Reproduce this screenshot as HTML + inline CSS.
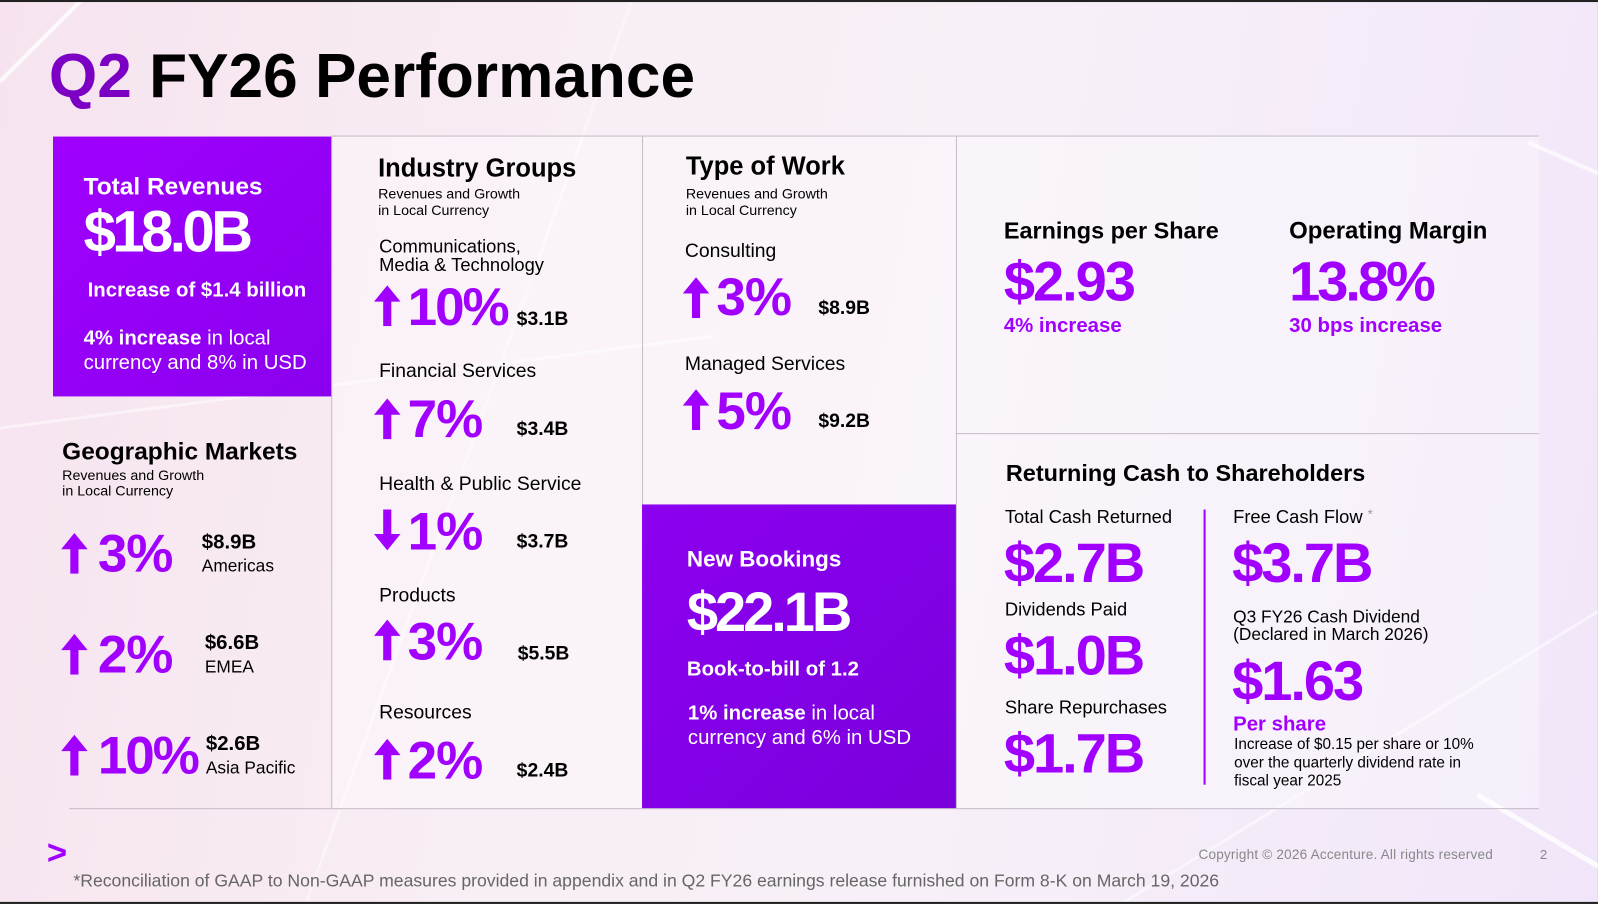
<!DOCTYPE html>
<html><head><meta charset="utf-8"><style>
html,body{margin:0;padding:0;width:1598px;height:904px;overflow:hidden;background:#222;}
#w{position:absolute;left:0;top:0;width:1568px;height:887px;transform:scale(1.0191);transform-origin:0 0;overflow:hidden;
background:linear-gradient(100deg,#f6e3ef 0%,#f8eef5 35%,#f7f0f8 60%,#f1e6f9 100%);font-family:"Liberation Sans",sans-serif;}
#w div,#w span.a{position:absolute;line-height:1;white-space:nowrap;}
.p{color:#a100ff;font-weight:bold;}
.b{font-weight:bold;}
.wt{color:#fff;}
.big{font-size:52px;letter-spacing:-1px;color:#a100ff;font-weight:bold;}
.xl{font-size:55px;letter-spacing:-2px;color:#a100ff;font-weight:bold;}
.hl{background:#c4bcc6;}
svg.ar{position:absolute;}
</style></head><body><div id="w">
<svg style="position:absolute;left:0;top:0" width="1568" height="887">
<line x1="0" y1="80" x2="80" y2="0" stroke="#fff" stroke-width="4" opacity="0.8"/>
<line x1="0" y1="420" x2="700" y2="330" stroke="#fff" stroke-width="3" opacity="0.5"/>
<line x1="620" y1="0" x2="300" y2="887" stroke="#fff" stroke-width="3" opacity="0.4"/>
<line x1="1100" y1="887" x2="1568" y2="600" stroke="#fff" stroke-width="3" opacity="0.5"/>
<line x1="1450" y1="780" x2="1568" y2="850" stroke="#fff" stroke-width="5" opacity="0.8"/>
<line x1="1500" y1="140" x2="1568" y2="170" stroke="#fff" stroke-width="4" opacity="0.7"/>
<rect x="0" y="0" width="1568" height="2" fill="#222"/>
<rect x="0" y="885" width="1568" height="2" fill="#222"/>
</svg>
<div style="left:325px;top:134px;width:613px;height:659px;background:rgba(255,255,255,0.35)"></div>
<div style="left:938px;top:134px;width:572px;height:659px;background:rgba(255,255,255,0.35)"></div>
<div class="hl" style="left:325px;top:133px;width:1185px;height:1px"></div>
<div class="hl" style="left:325px;top:134px;width:1px;height:659px"></div>
<div class="hl" style="left:630px;top:134px;width:1px;height:361px"></div>
<div class="hl" style="left:938px;top:134px;width:1px;height:659px"></div>
<div class="hl" style="left:938px;top:425px;width:572px;height:1px"></div>
<div class="hl" style="left:68px;top:793px;width:1442px;height:1px"></div>
<div style="left:1181px;top:500px;width:2px;height:270px;background:#a100ff"></div>
<div style="left:52px;top:134px;width:273px;height:255px;background:linear-gradient(135deg,#a000ff,#8a00ee)"></div>
<div style="left:630px;top:495px;width:308px;height:298px;background:linear-gradient(135deg,#8c00f0,#7a00dc)"></div>

<div style="left:48px;top:44px;font-size:61px;font-weight:bold;letter-spacing:0px"><span style="color:#7b00c4">Q2</span> FY26 Performance</div>

<div class="b wt" style="left:82px;top:172px;font-size:24px">Total Revenues</div>
<div class="b wt" style="left:82px;top:200px;font-size:57px;letter-spacing:-3.5px">$18.0B</div>
<div class="b wt" style="left:86px;top:275px;font-size:20px">Increase of $1.4 billion</div>
<div class="wt" style="left:82px;top:320px;font-size:20px;line-height:24px"><b>4% increase</b> in local<br>currency and 8% in USD</div>

<div class="b" style="left:61px;top:432px;font-size:24px">Geographic Markets</div>
<div style="left:61px;top:459px;font-size:14px;line-height:15px">Revenues and Growth<br>in Local Currency</div>
<svg class="ar" style="left:60px;top:523px" width="26" height="40" viewBox="0 0 26 40"><polygon points="13,0 26,16 17,16 17,40 9,40 9,16 0,16" fill="#a100ff"/></svg>
<div class="big" style="left:96px;top:518px">3%</div>
<div class="b" style="left:198px;top:522px;font-size:20px">$8.9B</div>
<div style="left:198px;top:547px;font-size:17px">Americas</div>
<svg class="ar" style="left:60px;top:622px" width="26" height="40" viewBox="0 0 26 40"><polygon points="13,0 26,16 17,16 17,40 9,40 9,16 0,16" fill="#a100ff"/></svg>
<div class="big" style="left:96px;top:617px">2%</div>
<div class="b" style="left:201px;top:621px;font-size:20px">$6.6B</div>
<div style="left:201px;top:646px;font-size:17px">EMEA</div>
<svg class="ar" style="left:60px;top:721px" width="26" height="40" viewBox="0 0 26 40"><polygon points="13,0 26,16 17,16 17,40 9,40 9,16 0,16" fill="#a100ff"/></svg>
<div class="big" style="left:96px;top:716px;letter-spacing:-2px">10%</div>
<div class="b" style="left:202px;top:720px;font-size:20px">$2.6B</div>
<div style="left:202px;top:745px;font-size:17px">Asia Pacific</div>

<div class="b" style="left:371px;top:153px;font-size:25px">Industry Groups</div>
<div style="left:371px;top:182px;font-size:14px;line-height:16px">Revenues and Growth<br>in Local Currency</div>
<div style="left:372px;top:233px;font-size:18px;line-height:18px">Communications,<br>Media &amp; Technology</div>
<svg class="ar" style="left:367px;top:280px" width="26" height="40" viewBox="0 0 26 40"><polygon points="13,0 26,16 17,16 17,40 9,40 9,16 0,16" fill="#a100ff"/></svg>
<div class="big" style="left:400px;top:276px;letter-spacing:-2px">10%</div>
<div class="b" style="left:507px;top:304px;font-size:19px">$3.1B</div>
<div style="left:372px;top:355px;font-size:19px">Financial Services</div>
<svg class="ar" style="left:367px;top:391px" width="26" height="40" viewBox="0 0 26 40"><polygon points="13,0 26,16 17,16 17,40 9,40 9,16 0,16" fill="#a100ff"/></svg>
<div class="big" style="left:400px;top:386px">7%</div>
<div class="b" style="left:507px;top:412px;font-size:19px">$3.4B</div>
<div style="left:372px;top:466px;font-size:19px">Health &amp; Public Service</div>
<svg class="ar" style="left:367px;top:500px" width="26" height="40" viewBox="0 0 26 40"><polygon points="13,40 26,24 17,24 17,0 9,0 9,24 0,24" fill="#a100ff"/></svg>
<div class="big" style="left:400px;top:496px">1%</div>
<div class="b" style="left:507px;top:522px;font-size:19px">$3.7B</div>
<div style="left:372px;top:575px;font-size:19px">Products</div>
<svg class="ar" style="left:367px;top:608px" width="26" height="40" viewBox="0 0 26 40"><polygon points="13,0 26,16 17,16 17,40 9,40 9,16 0,16" fill="#a100ff"/></svg>
<div class="big" style="left:400px;top:604px">3%</div>
<div class="b" style="left:508px;top:632px;font-size:19px">$5.5B</div>
<div style="left:372px;top:690px;font-size:19px">Resources</div>
<svg class="ar" style="left:367px;top:725px" width="26" height="40" viewBox="0 0 26 40"><polygon points="13,0 26,16 17,16 17,40 9,40 9,16 0,16" fill="#a100ff"/></svg>
<div class="big" style="left:400px;top:721px">2%</div>
<div class="b" style="left:507px;top:747px;font-size:19px">$2.4B</div>

<div class="b" style="left:673px;top:151px;font-size:25px">Type of Work</div>
<div style="left:673px;top:182px;font-size:14px;line-height:16px">Revenues and Growth<br>in Local Currency</div>
<div style="left:672px;top:237px;font-size:19px">Consulting</div>
<svg class="ar" style="left:670px;top:272px" width="26" height="40" viewBox="0 0 26 40"><polygon points="13,0 26,16 17,16 17,40 9,40 9,16 0,16" fill="#a100ff"/></svg>
<div class="big" style="left:703px;top:266px">3%</div>
<div class="b" style="left:803px;top:293px;font-size:19px">$8.9B</div>
<div style="left:672px;top:348px;font-size:19px">Managed Services</div>
<svg class="ar" style="left:670px;top:382px" width="26" height="40" viewBox="0 0 26 40"><polygon points="13,0 26,16 17,16 17,40 9,40 9,16 0,16" fill="#a100ff"/></svg>
<div class="big" style="left:703px;top:378px">5%</div>
<div class="b" style="left:803px;top:404px;font-size:19px">$9.2B</div>

<div class="b wt" style="left:674px;top:538px;font-size:22px">New Bookings</div>
<div class="b wt" style="left:674px;top:573px;font-size:55px;letter-spacing:-3px">$22.1B</div>
<div class="b wt" style="left:674px;top:647px;font-size:20px">Book-to-bill of 1.2</div>
<div class="wt" style="left:675px;top:688px;font-size:20px;line-height:24px"><b>1% increase</b> in local<br>currency and 6% in USD</div>

<div class="b" style="left:985px;top:215px;font-size:23px">Earnings per Share</div>
<div class="xl" style="left:985px;top:249px">$2.93</div>
<div class="p" style="left:985px;top:310px;font-size:20px">4% increase</div>
<div class="b" style="left:1265px;top:215px;font-size:23.5px">Operating Margin</div>
<div class="xl" style="left:1265px;top:249px;letter-spacing:-3px">13.8%</div>
<div class="p" style="left:1265px;top:310px;font-size:20px">30 bps increase</div>

<div class="b" style="left:987px;top:453px;font-size:23px">Returning Cash to Shareholders</div>
<div style="left:986px;top:498px;font-size:18px">Total Cash Returned</div>
<div class="xl" style="left:985px;top:525px">$2.7B</div>
<div style="left:986px;top:589px;font-size:18px">Dividends Paid</div>
<div class="xl" style="left:985px;top:616px">$1.0B</div>
<div style="left:986px;top:685px;font-size:18px">Share Repurchases</div>
<div class="xl" style="left:985px;top:712px">$1.7B</div>
<div style="left:1210px;top:498px;font-size:18px">Free Cash Flow <span style="color:#999;font-size:13px;vertical-align:top">*</span></div>
<div class="xl" style="left:1209px;top:525px">$3.7B</div>
<div style="left:1210px;top:597px;font-size:17px;line-height:17px">Q3 FY26 Cash Dividend<br>(Declared in March 2026)</div>
<div class="xl" style="left:1209px;top:641px">$1.63</div>
<div class="p" style="left:1210px;top:701px;font-size:20px">Per share</div>
<div style="left:1211px;top:722px;font-size:15px;line-height:18px">Increase of $0.15 per share or 10%<br>over the quarterly dividend rate in<br>fiscal year 2025</div>

<div style="left:46px;top:820px;font-size:34px;font-weight:bold;color:#a100ff">&gt;</div>
<div style="left:72px;top:856px;font-size:17.3px;color:#666">*Reconciliation of GAAP to Non-GAAP measures provided in appendix and in Q2 FY26 earnings release furnished on Form 8-K on March 19, 2026</div>
<div style="left:1176px;top:832px;font-size:13.3px;color:#888;letter-spacing:0.2px">Copyright © 2026 Accenture. All rights reserved</div>
<div style="left:1511px;top:832px;font-size:13px;color:#888">2</div>
</div></body></html>
